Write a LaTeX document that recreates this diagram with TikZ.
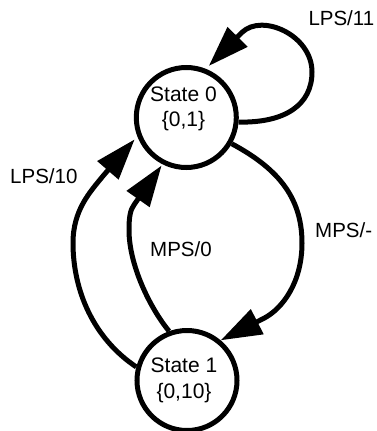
\documentclass[tikz,border=0pt]{standalone}
\usepackage{fontspec}
\setmainfont{Liberation Sans}
\usetikzlibrary{arrows.meta}
\begin{document}
\begin{tikzpicture}[x=1pt,y=-1pt,
  state/.style={circle, draw, line width=5pt, minimum size=100pt, inner sep=0pt},
  statetext/.style={align=center, anchor=base, inner sep=0pt, font=\fontsize{21}{25.5}\selectfont},
  edge/.style={line width=5pt, -{Triangle[length=41pt 0 0,width=27pt 0 0]}},
  lbl/.style={anchor=base west, inner sep=0pt, font=\fontsize{20.5}{24}\selectfont}]
\useasboundingbox (0,0) rectangle (377,431);

% states
\node[state] (s0) at (186.3,117.5) {};
\node[state] (s1) at (187,380.5) {};
\node[statetext] (t0) at (183.5,126.7) {State 0\\\{0,1\}};
\node[statetext] (t1) at (184,398.3) {State 1\\\{0,10\}};

% transitions
\draw[edge, shorten >=4pt] (s0.-5) .. controls (285,123) and (312,105) .. (312,72)
  .. controls (312,35) and (262,13) .. (242,32.4) -- (s0.68);
\draw[edge] (s0.-30) .. controls (275,167) and (302,195) .. (302,243)
  .. controls (302,282) and (283,308) .. (264.5,318) -- (s1.50);
\draw[edge, shorten >=4pt] (s1.165) .. controls (93,338) and (73,290) .. (73,243)
  .. controls (73,210) and (90,192) .. (103,176) -- (s0.201.5);
\draw[edge, shorten >=1.5pt] (s1.110) .. controls (150,308) and (129,265) .. (129,230)
  .. controls (129,218) and (130,210) .. (134.3,204.4) -- (s0.-117.4);

% transition labels
\node[lbl] (l11) at (308.3,25) {LPS/11};
\node[lbl] (l10) at (10,183.3) {LPS/10};
\node[lbl] (m0) at (150,256.7) {MPS/0};
\node[lbl] (mm) at (315,237) {MPS/-};
\end{tikzpicture}
\end{document}
